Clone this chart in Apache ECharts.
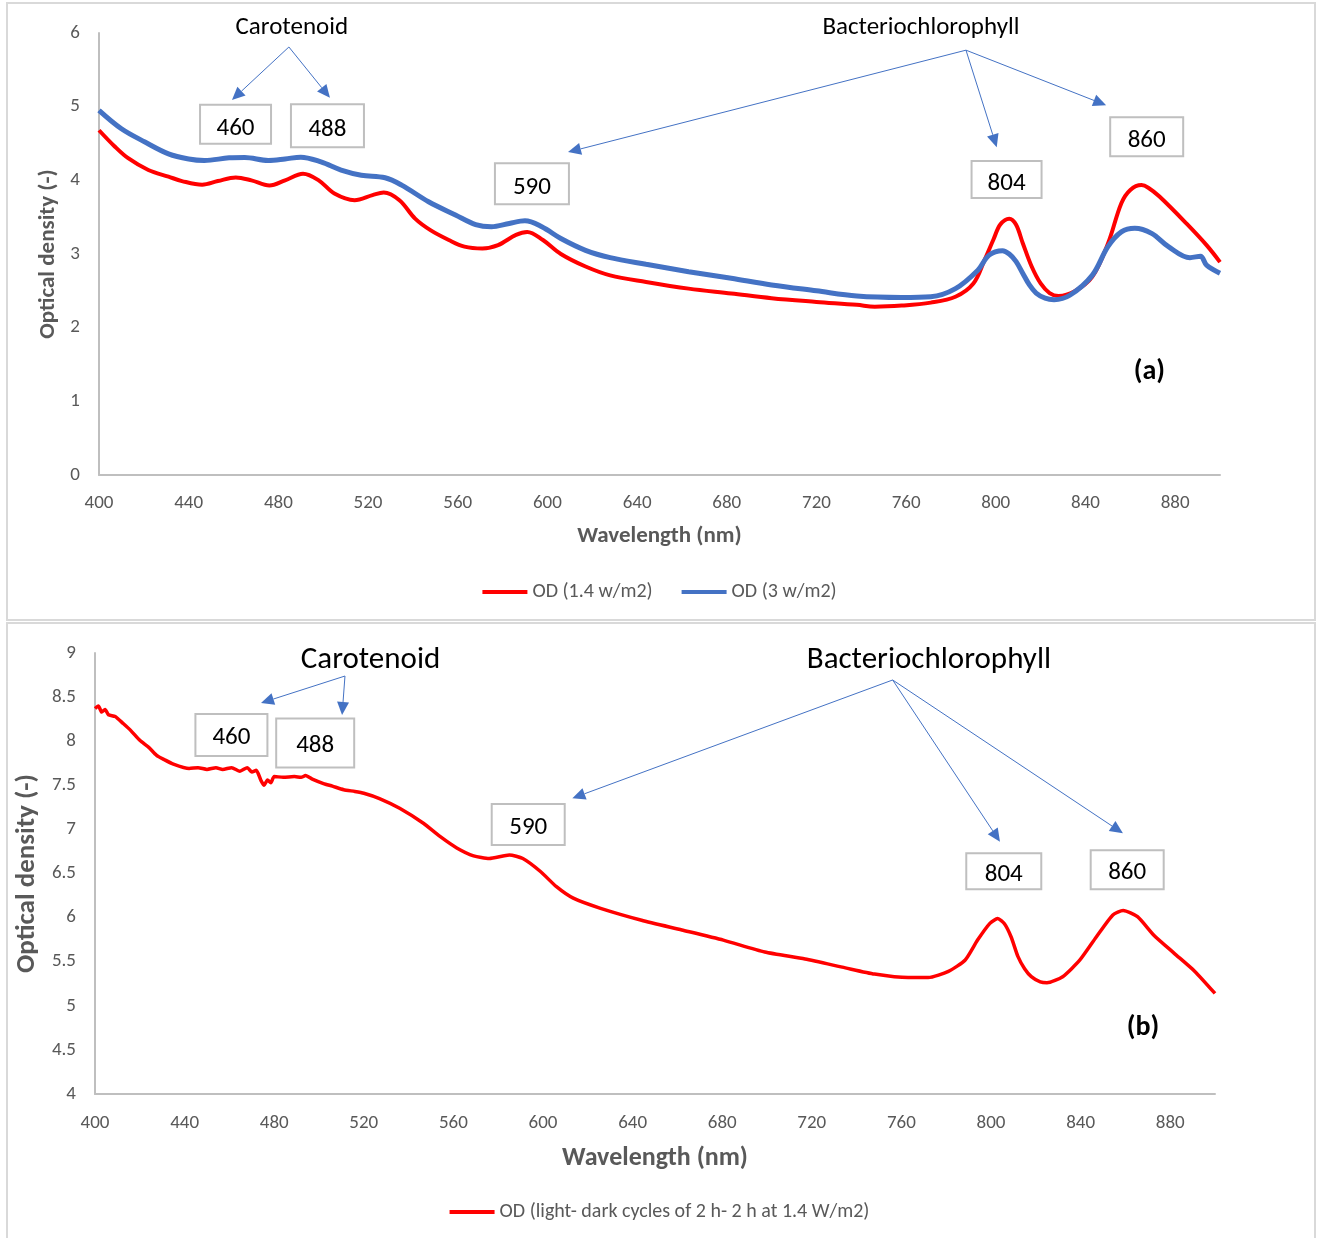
<!DOCTYPE html>
<html>
<head>
<meta charset="utf-8">
<script src="https://cdn.jsdelivr.net/npm/echarts@6/dist/echarts.min.js"></script>
<style>
html,body{margin:0;padding:0;background:#fff;}
#chart{width:1319px;height:1238px;}
</style>
</head>
<body>
<div id="chart"></div>
<script>
// ---------- DATA ----------
// Panel (a)
const wlRedA = [400,407,413,422,431,437,446,453,461,468,476,483,491,498,505,514,522,527,534,541,548,556,563,571,578,586,591,598,606,617,628,644,663,682,700,720,738,746,758,771,782,790,795,799,802,806,809,812,816,820,824,828,835,843,850,856,860,865,868,873,885,894,900];
const odRedA = [4.68,4.46,4.30,4.14,4.05,3.99,3.94,3.99,4.04,4.00,3.93,4.00,4.09,4.00,3.82,3.73,3.80,3.835,3.73,3.48,3.32,3.19,3.10,3.075,3.12,3.26,3.30,3.19,3.00,2.83,2.71,2.62,2.53,2.465,2.40,2.35,2.31,2.285,2.30,2.34,2.42,2.60,2.92,3.20,3.40,3.48,3.40,3.15,2.83,2.60,2.47,2.43,2.49,2.69,3.14,3.69,3.87,3.935,3.90,3.78,3.415,3.12,2.89];
const wlBlueA = [400,410,420.5,431,440,447,458,465,475.5,483,490,499,508,517,527.6,535,547,559,568,575,583,590,597.5,606,617,628,644,663,682,700,720,738,758,771,782,792,797,803,806,809,812,815,818,822,826,833,843,850,856,862,869.5,877,886.6,891.3,894,900];
const odBlueA = [4.95,4.70,4.52,4.36,4.29,4.27,4.305,4.31,4.27,4.29,4.315,4.25,4.14,4.07,4.035,3.935,3.71,3.53,3.40,3.37,3.415,3.45,3.37,3.21,3.05,2.95,2.86,2.76,2.67,2.58,2.50,2.43,2.41,2.42,2.53,2.78,2.985,3.045,3.00,2.90,2.74,2.58,2.47,2.40,2.38,2.44,2.71,3.10,3.30,3.35,3.28,3.10,2.95,2.97,2.85,2.74];
// Panel (b)
const wlB = [400,401.5,403,404.5,406,409,412.6,416,420,424,427.5,431,435,442,446,450,454,457,461,464.7,468,470,472,474,475.5,477,478.5,480,484,489,492,494,497,502,506,511,516,520,527,536,546.6,554,561.5,569,576,585,591,599,606,613.5,625.7,644,662,680.5,699,717,735,748,763,772,781,788.5,794,799.5,803,806,809,812,815,818,822,825,832,839.7,847,854.4,859,865.4,872.7,881.8,891,900];
const odB = [8.37,8.40,8.33,8.36,8.30,8.28,8.20,8.12,8.01,7.93,7.84,7.79,7.74,7.69,7.70,7.68,7.70,7.68,7.70,7.66,7.70,7.65,7.67,7.56,7.50,7.56,7.53,7.60,7.59,7.60,7.59,7.61,7.57,7.52,7.49,7.45,7.43,7.41,7.35,7.24,7.07,6.92,6.79,6.70,6.67,6.71,6.67,6.52,6.35,6.22,6.105,5.97,5.86,5.745,5.61,5.53,5.43,5.36,5.32,5.32,5.39,5.52,5.745,5.935,5.99,5.93,5.78,5.56,5.42,5.33,5.27,5.26,5.33,5.52,5.78,6.03,6.08,6.01,5.80,5.595,5.39,5.14];

const seriesNamesA = ['OD (1.4 w/m2)', 'OD (3 w/m2)'];
const seriesNameB = 'OD (light- dark cycles of 2 h- 2 h at 1.4 W/m2)';
const axisNameX = 'Wavelength (nm)';
const axisNameY = 'Optical density (-)';

// Annotations (data coordinates)
const groupTextsA = [['Carotenoid', 486, 6.065], ['Bacteriochlorophyll', 766.6, 6.065]];
const peakBoxesA = [['460', 460.9, 4.76], ['488', 501.9, 4.74], ['590', 593.1, 3.955], ['804', 804.8, 4.01], ['860', 867.3, 4.593]];
const arrowsA = [[484.7,5.81,459.3,5.09],[484.7,5.81,503.0,5.12],[786.7,5.767,609.2,4.383],[786.7,5.767,800.4,4.45],[786.7,5.767,849.2,5.02]];
const panelLabelA = ['(a)', 868.5, 1.40];

const groupTextsB = [['Carotenoid', 523, 8.92], ['Bacteriochlorophyll', 772.3, 8.92]];
const peakBoxesB = [['460', 460.9, 8.07], ['488', 498.3, 7.98], ['590', 593.4, 7.056], ['804', 805.7, 6.525], ['860', 860.8, 6.543]];
const arrowsB = [[511.6,8.739,474.1,8.433],[511.6,8.739,510.3,8.297],[756.1,8.694,613.1,7.353],[756.1,8.694,804.0,6.861],[756.1,8.694,858.9,6.956]];
const panelLabelB = ['(b)', 867.9, 4.75];

// ---------- CHART ----------
const FONT = 'Carlito, Calibri, Lato, sans-serif';
const zip = (a, b) => a.map((v, i) => [v, b[i]]);
const chart = echarts.init(document.getElementById('chart'), null, {renderer: 'canvas'});

function xAxisCfg(gi, gap, nameSize, labelMargin) {
  return {
    gridIndex: gi, type: 'value', min: 400, max: 900, interval: 40,
    name: axisNameX, nameLocation: 'middle', nameGap: gap,
    nameTextStyle: {fontFamily: FONT, fontWeight: 'bold', fontSize: nameSize, color: '#595959'},
    axisLine: {lineStyle: {color: '#BFBFBF', width: 2}},
    axisTick: {show: false}, splitLine: {show: false},
    axisLabel: {margin: labelMargin, color: '#595959', fontSize: 19, fontFamily: FONT, showMaxLabel: false}
  };
}
function yAxisCfg(gi, min, max, interval, gap, nameSize) {
  return {
    gridIndex: gi, type: 'value', min: min, max: max, interval: interval,
    name: axisNameY, nameLocation: 'middle', nameGap: gap,
    nameTextStyle: {fontFamily: FONT, fontWeight: 'bold', fontSize: nameSize, color: '#595959'},
    axisLine: {show: true, lineStyle: {color: '#BFBFBF', width: 2}},
    axisTick: {show: false}, splitLine: {show: false},
    axisLabel: {margin: 19, color: '#595959', fontSize: 19, fontFamily: FONT}
  };
}

const option = {
  animation: false,
  backgroundColor: '#ffffff',
  grid: [
    {left: 99, right: 99, top: 33, height: 442},
    {left: 95, right: 104, top: 653, height: 441}
  ],
  xAxis: [xAxisCfg(0, 50, 23, 19), xAxisCfg(1, 51, 26, 20)],
  yAxis: [yAxisCfg(0, 0, 6, 1, 36, 23), yAxisCfg(1, 4, 9, 0.5, 52, 27)],
  legend: [
    {data: seriesNamesA, top: 577, left: 'center', icon: 'rect', itemWidth: 45, itemHeight: 4, itemGap: 29,
     textStyle: {color: '#595959', fontSize: 20, fontFamily: FONT}},
    {data: [seriesNameB], top: 1197, left: 'center', icon: 'rect', itemWidth: 45, itemHeight: 4,
     textStyle: {color: '#595959', fontSize: 20, fontFamily: FONT}}
  ],
  series: [
    {type: 'line', name: seriesNamesA[0], xAxisIndex: 0, yAxisIndex: 0, data: zip(wlRedA, odRedA),
     symbol: 'none', smooth: 0.35, lineStyle: {color: '#FF0000', width: 4}, itemStyle: {color: '#FF0000'}},
    {type: 'line', name: seriesNamesA[1], xAxisIndex: 0, yAxisIndex: 0, data: zip(wlBlueA, odBlueA),
     symbol: 'none', smooth: 0.35, lineStyle: {color: '#4472C4', width: 5}, itemStyle: {color: '#4472C4'}},
    {type: 'line', name: seriesNameB, xAxisIndex: 1, yAxisIndex: 1, data: zip(wlB, odB),
     symbol: 'none', smooth: 0.2, lineStyle: {color: '#FF0000', width: 3.5}, itemStyle: {color: '#FF0000'}}
  ]
};
chart.setOption(option);

// ---------- ANNOTATIONS (positioned through the chart's scales) ----------
const P = (gi, x, y) => chart.convertToPixel({gridIndex: gi}, [x, y]);
const graphics = [];
// panel frames
graphics.push({type: 'rect', shape: {x: 7, y: 3, width: 1308, height: 617}, style: {fill: 'none', stroke: '#D9D9D9', lineWidth: 2}, silent: true, z: 0});
graphics.push({type: 'rect', shape: {x: 7, y: 623, width: 1308, height: 622}, style: {fill: 'none', stroke: '#D9D9D9', lineWidth: 2}, silent: true, z: 0});

function addArrow(gi, a) {
  const s = P(gi, a[0], a[1]), e = P(gi, a[2], a[3]);
  const dx = e[0] - s[0], dy = e[1] - s[1], L = Math.hypot(dx, dy);
  const ux = dx / L, uy = dy / L, len = 13, hw = 6;
  const bx = e[0] - ux * len, by = e[1] - uy * len;
  graphics.push({type: 'line', shape: {x1: s[0], y1: s[1], x2: bx, y2: by}, style: {stroke: '#4472C4', lineWidth: 1}, z: 50, silent: true});
  graphics.push({type: 'polygon', shape: {points: [[e[0], e[1]], [bx - uy * hw, by + ux * hw], [bx + uy * hw, by - ux * hw]]}, style: {fill: '#4472C4'}, z: 50, silent: true});
}
function addBox(gi, b, w, h, fs, dy) {
  const c = P(gi, b[1], b[2]);
  graphics.push({type: 'rect', shape: {x: c[0] - w / 2, y: c[1] - h / 2, width: w, height: h}, style: {fill: '#fff', stroke: '#BFBFBF', lineWidth: 2}, z: 50, silent: true});
  graphics.push({type: 'text', x: c[0], y: c[1] + dy, style: {text: b[0], fill: '#000', font: fs + 'px ' + FONT, align: 'center', verticalAlign: 'middle'}, z: 51, silent: true});
}
function addText(gi, t, fs, weight) {
  const c = P(gi, t[1], t[2]);
  graphics.push({type: 'text', x: c[0], y: c[1], style: {text: t[0], fill: '#000', font: (weight || 'normal') + ' ' + fs + 'px ' + FONT, align: 'center', verticalAlign: 'middle'}, z: 51, silent: true});
}

const boxSizesA = [[71, 39], [73, 43], [74, 41], [70, 37], [73, 39]];
const boxSizesB = [[72, 42], [78, 49], [73, 41], [75, 36], [73, 39]];
groupTextsA.forEach(t => addText(0, t, 25));
arrowsA.forEach(a => addArrow(0, a));
peakBoxesA.forEach((b, i) => addBox(0, b, boxSizesA[i][0], boxSizesA[i][1], 25, 4));
addText(0, panelLabelA, 28, 'bold');

groupTextsB.forEach(t => addText(1, t, 31));
arrowsB.forEach(a => addArrow(1, a));
peakBoxesB.forEach((b, i) => addBox(1, b, boxSizesB[i][0], boxSizesB[i][1], 25, 3));
addText(1, panelLabelB, 28, 'bold');

chart.setOption({graphic: graphics});
</script>
</body>
</html>
